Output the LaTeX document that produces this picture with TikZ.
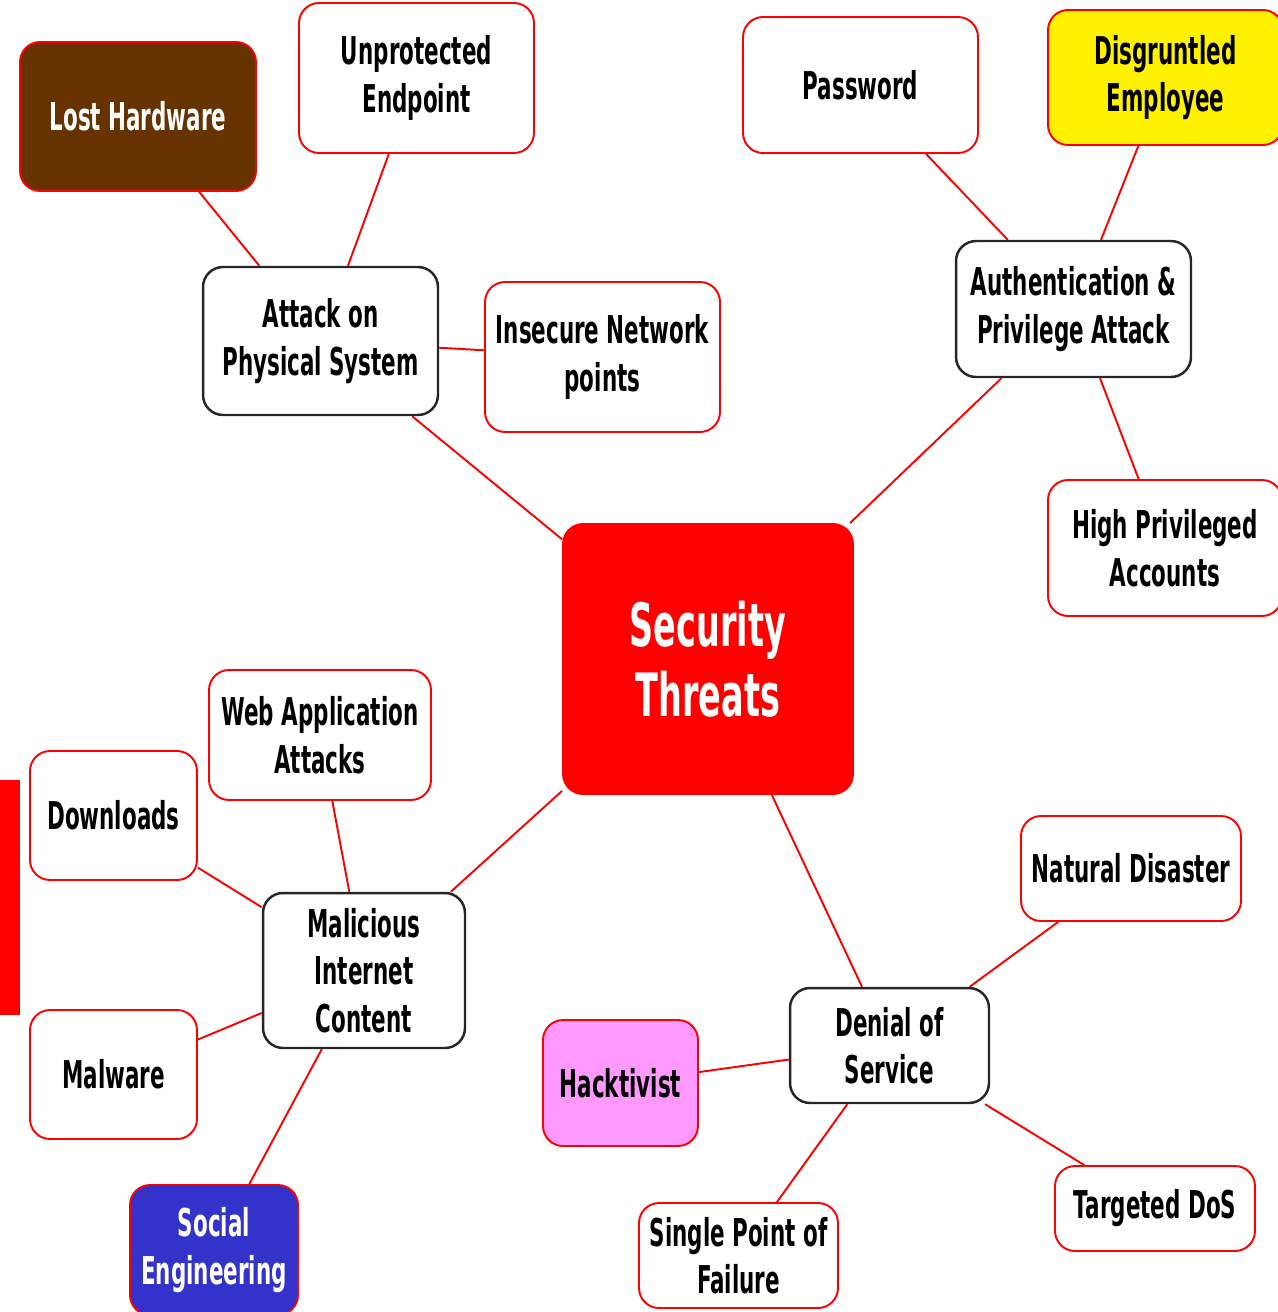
\documentclass[tikz,border=0pt]{standalone}
\usepackage{fontspec}
\setmainfont{DejaVu Sans}[FakeStretch=0.56]
\usetikzlibrary{backgrounds}
\definecolor{hwbrown}{RGB}{102,51,0}
\definecolor{sebblue}{RGB}{51,51,204}
\definecolor{hackpink}{RGB}{255,153,255}

\begin{document}
\begin{tikzpicture}[x=0.02cm,y=-0.02cm,
    topic/.style={rectangle,rounded corners=0.4cm,draw=red,line width=1.1pt,fill=white,align=center,inner sep=0pt,font=\fontsize{21.8}{27}\selectfont\bfseries},
    branch/.style={topic,draw=black!85,line width=1.4pt},
    link/.style={draw=red,line width=1.1pt}]
  \useasboundingbox (0,0) rectangle (1278,1312);
  \fill[red] (0,780) rectangle (20,1015);

  % centre
  \node[topic,fill=red,draw=red,text=white,minimum width=5.8cm,minimum height=5.4cm,font=\fontsize{34}{40}\selectfont\bfseries](threats) at (708,659) {Security\\Threats};

  % physical
  \node[branch,minimum width=4.7cm,minimum height=2.96cm](physical) at (320.5,341) {Attack on\\Physical System};
  \node[topic,fill=hwbrown,text=white,minimum width=4.72cm,minimum height=2.98cm](hardware) at (138,116.5) {Lost Hardware};
  \node[topic,minimum width=4.7cm,minimum height=3cm](endpoint) at (416.5,78) {Unprotected\\Endpoint};
  \node[topic,minimum width=4.7cm,minimum height=3cm](network) at (602.5,357) {Insecure Network\\points};

  % authentication
  \node[branch,minimum width=4.7cm,minimum height=2.72cm](auth) at (1073.5,309) {Authentication \&\\Privilege Attack};
  \node[topic,minimum width=4.7cm,minimum height=2.72cm](password) at (860.5,85) {Password};
  \node[topic,fill=yellow,minimum width=4.7cm,minimum height=2.7cm](employee) at (1165.5,77.5) {Disgruntled\\Employee};
  \node[topic,minimum width=4.68cm,minimum height=2.72cm](accounts) at (1165,548) {High Privileged\\Accounts};

  % internet content
  \node[branch,minimum width=4.04cm,minimum height=3.1cm](content) at (364,970.5) {Malicious\\Internet\\Content};
  \node[topic,minimum width=4.44cm,minimum height=2.6cm](webapp) at (320,735) {Web Application\\Attacks};
  \node[topic,minimum width=3.34cm,minimum height=2.58cm](downloads) at (113.5,815.5) {Downloads};
  \node[topic,minimum width=3.34cm,minimum height=2.58cm](malware) at (113.5,1074.5) {Malware};
  \node[topic,fill=sebblue,text=white,minimum width=3.36cm,minimum height=2.6cm](social) at (214,1250) {Social\\Engineering};

  % denial of service
  \node[branch,minimum width=3.98cm,minimum height=2.3cm](dos) at (889.5,1045.5) {Denial of\\Service};
  \node[topic,minimum width=4.4cm,minimum height=2.1cm](disaster) at (1131,868.5) {Natural Disaster};
  \node[topic,fill=hackpink,minimum width=3.1cm,minimum height=2.52cm](hacktivist) at (620.5,1083) {Hacktivist};
  \node[topic,minimum width=4cm,minimum height=1.7cm](targeted) at (1155,1208.5) {Targeted DoS};
  \node[topic,minimum width=3.98cm,minimum height=2.1cm](failure) at (738.5,1255.5) {Single Point of\\Failure};

  \begin{scope}[on background layer]
    \draw[link] (threats) -- (physical);
    \draw[link] (threats) -- (auth);
    \draw[link] (threats) -- (content);
    \draw[link] (threats) -- (dos);
    \draw[link] (physical) -- (hardware);
    \draw[link] (physical) -- (endpoint);
    \draw[link] (physical) -- (network);
    \draw[link] (auth) -- (password);
    \draw[link] (auth) -- (employee);
    \draw[link] (auth) -- (accounts);
    \draw[link] (content) -- (webapp);
    \draw[link] (content) -- (downloads);
    \draw[link] (content) -- (malware);
    \draw[link] (content) -- (social);
    \draw[link] (dos) -- (disaster);
    \draw[link] (dos) -- (hacktivist);
    \draw[link] (dos) -- (targeted);
    \draw[link] (dos) -- (failure);
  \end{scope}
\end{tikzpicture}
\end{document}
